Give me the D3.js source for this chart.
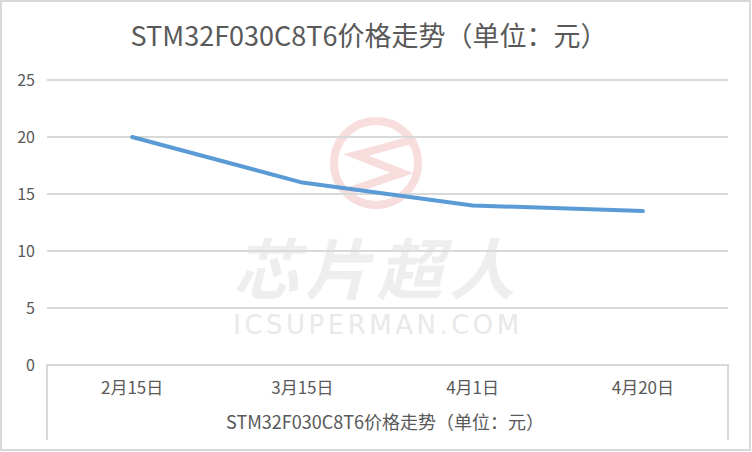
<!DOCTYPE html>
<html lang="zh">
<head>
<meta charset="utf-8">
<title>STM32F030C8T6价格走势</title>
<script src="https://d3js.org/d3.v7.min.js"></script>
<style>
  body { margin: 0; background: #fff; }
  text { font-family: "Noto Sans CJK SC", "Noto Sans", sans-serif; fill: #595959; }
</style>
</head>
<body>
<script>
// chart data
var title = "STM32F030C8T6价格走势（单位：元）";
var seriesName = "STM32F030C8T6价格走势（单位：元）";
var dates = ["2月15日", "3月15日", "4月1日", "4月20日"];
var prices = [20, 16, 14, 13.5];
var yTicks = [0, 5, 10, 15, 20, 25];

var width = 752, height = 452;
var plotLeft = 47, plotRight = 728, plotTop = 80, plotBottom = 365;

var svg = d3.select("body").append("svg")
    .attr("width", width)
    .attr("height", height);

// outer frame
svg.append("rect")
    .attr("x", 1).attr("y", 1)
    .attr("width", width - 3).attr("height", height - 3)
    .attr("fill", "#fff")
    .attr("stroke", "#d9d9d9")
    .attr("stroke-width", 2);

var x = d3.scaleBand()
    .domain(dates)
    .range([plotLeft, plotRight]);

var y = d3.scaleLinear()
    .domain([0, 25])
    .range([plotBottom, plotTop]);

// watermark
var wm = svg.append("g").attr("class", "watermark");
wm.append("circle")
    .attr("cx", 376).attr("cy", 163).attr("r", 42)
    .attr("fill", "none")
    .attr("stroke", "#f8dddd")
    .attr("stroke-width", 8);
wm.append("path")
    .attr("d", "M412,140 L356,155 L402,173 L346,192")
    .attr("fill", "none")
    .attr("stroke", "#f8dddd")
    .attr("stroke-width", 8);
wm.append("text")
    .attr("x", 377).attr("y", 294)
    .attr("text-anchor", "middle")
    .style("font-size", "66px")
    .style("font-weight", "bold")
    .style("font-style", "italic")
    .style("letter-spacing", "6px")
    .style("fill", "#eeeeee")
    .text("芯片超人");
wm.append("text")
    .attr("x", 378).attr("y", 334)
    .attr("text-anchor", "middle")
    .style("font-family", "'DejaVu Sans', sans-serif")
    .style("font-size", "26px")
    .style("letter-spacing", "3.5px")
    .style("fill", "#e9e9e9")
    .text("ICSUPERMAN.COM");

// gridlines
svg.append("g")
  .selectAll("line")
  .data(yTicks.filter(function(d) { return d > 0; }))
  .enter().append("line")
    .attr("x1", plotLeft).attr("x2", plotRight)
    .attr("y1", function(d) { return y(d); })
    .attr("y2", function(d) { return y(d); })
    .attr("stroke", "#d9d9d9")
    .attr("stroke-width", 2);

// y tick labels
svg.append("g")
  .selectAll("text")
  .data(yTicks)
  .enter().append("text")
    .attr("x", 35)
    .attr("y", function(d) { return y(d); })
    .attr("dy", "0.35em")
    .attr("text-anchor", "end")
    .style("font-size", "16px")
    .text(function(d) { return d; });

// data-table style x axis
var table = svg.append("g");
table.append("path")
    .attr("d", "M" + plotLeft + ",440 V" + plotBottom + " H" + plotRight + " V440")
    .attr("fill", "none")
    .attr("stroke", "#d9d9d9")
    .attr("stroke-width", 2);

table.selectAll("text.cat")
  .data(dates)
  .enter().append("text")
    .attr("class", "cat")
    .attr("x", function(d) { return x(d) + x.bandwidth() / 2; })
    .attr("y", 394)
    .attr("text-anchor", "middle")
    .style("font-size", "17px")
    .text(function(d) { return d; });

table.append("text")
    .attr("x", 385)
    .attr("y", 429)
    .attr("text-anchor", "middle")
    .style("font-size", "18px")
    .text(seriesName);

// line
var line = d3.line()
    .x(function(d, i) { return x(dates[i]) + x.bandwidth() / 2; })
    .y(function(d) { return y(d); });

svg.append("path")
    .datum(prices)
    .attr("d", line)
    .attr("fill", "none")
    .attr("stroke", "#5b9bd5")
    .attr("stroke-width", 4)
    .attr("stroke-linejoin", "round")
    .attr("stroke-linecap", "round");

// title
svg.append("text")
    .attr("x", 369)
    .attr("y", 46)
    .attr("text-anchor", "middle")
    .style("font-size", "27px")
    .text(title);
</script>
</body>
</html>
